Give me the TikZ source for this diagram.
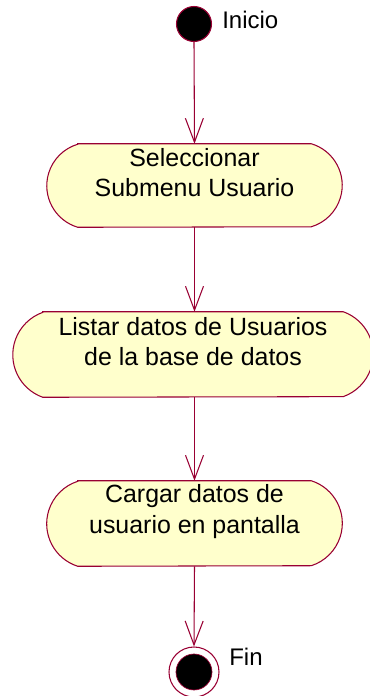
\documentclass[tikz,border=0pt]{standalone}
\usepackage{fontspec}
\setmainfont{Liberation Sans}
\usetikzlibrary{arrows.meta}
\definecolor{maroon}{HTML}{990033}
\definecolor{actfill}{HTML}{FFFFCC}
\tikzset{
  actline/.style={draw=maroon, line width=0.8pt, fill=actfill},
  boxnode/.style={rectangle, inner sep=0pt, draw=none},
  acttext/.style={align=center, inner sep=0pt, font=\fontsize{18.7}{23}\selectfont},
  lbl/.style={inner sep=0pt, font=\fontsize{18}{23}\selectfont},
  flow/.style={draw=maroon, line width=0.8pt, -{Straight Barb[length=18pt, width=13.5pt, line width=0.8pt]}},
}
\begin{document}
\begin{tikzpicture}[x=0.75pt, y=-0.75pt]
\useasboundingbox (0,0) rectangle (370,696);
\clip (0,0) rectangle (370,696);
% start
\node[circle, minimum size=26.25pt, inner sep=0pt, draw=maroon, line width=0.8pt, fill=black] (start) at (194,24) {};
\node[lbl, anchor=base west] (inicio) at (222,28) {Inicio};
% box 1
\node[boxnode, minimum width=221.25pt, minimum height=62.25pt] (b1) at (194.5,185.5) {};
\path[actline] ([xshift=23.25pt]b1.north west) -- ([xshift=-23.25pt]b1.north east)
  arc[start angle=73.4, end angle=-73.4, radius=32.5pt]
  -- ([xshift=23.25pt]b1.south west)
  arc[start angle=253.4, end angle=106.6, radius=32.5pt] -- cycle;
\node[acttext] (t1) at ([yshift=9.75pt]b1.center) {Seleccionar\\Submenu Usuario};
% box 2
\node[boxnode, minimum width=270pt, minimum height=63.75pt] (b2) at (193,354.5) {};
\path[actline] ([xshift=22.5pt]b2.north west) -- ([xshift=-22.5pt]b2.north east)
  arc[start angle=70.4, end angle=-70.4, radius=33.8pt]
  -- ([xshift=22.5pt]b2.south west)
  arc[start angle=250.4, end angle=109.6, radius=33.8pt] -- cycle;
\node[acttext] (t2) at ([yshift=9.75pt]b2.center) {Listar datos de Usuarios\\de la base de datos};
% box 3
\node[boxnode, minimum width=221.25pt, minimum height=63.75pt] (b3) at (194.5,523.5) {};
\path[actline] ([xshift=23.25pt]b3.north west) -- ([xshift=-23.25pt]b3.north east)
  arc[start angle=72.3, end angle=-72.3, radius=33.45pt]
  -- ([xshift=23.25pt]b3.south west)
  arc[start angle=252.3, end angle=107.7, radius=33.45pt] -- cycle;
\node[acttext] (t3) at ([yshift=9pt]b3.center) {Cargar datos de\\usuario en pantalla};
% end
\node[circle, minimum size=37.5pt, inner sep=0pt, draw=maroon, line width=0.8pt] (fin) at (194,672) {};
\draw[draw=maroon, line width=0.5pt, fill=black] (fin.center) circle[radius=13.5pt];
\node[lbl, anchor=base west] (finlbl) at (229,665) {Fin};
% flows
\draw[flow] (start.south) -- (b1.north);
\draw[flow] (b1.south) -- (b1.south |- b2.north);
\draw[flow] (b1.south |- b2.south) -- (b1.south |- b3.north);
\draw[flow] (b3.south) -- (fin.north);
\end{tikzpicture}
\end{document}
